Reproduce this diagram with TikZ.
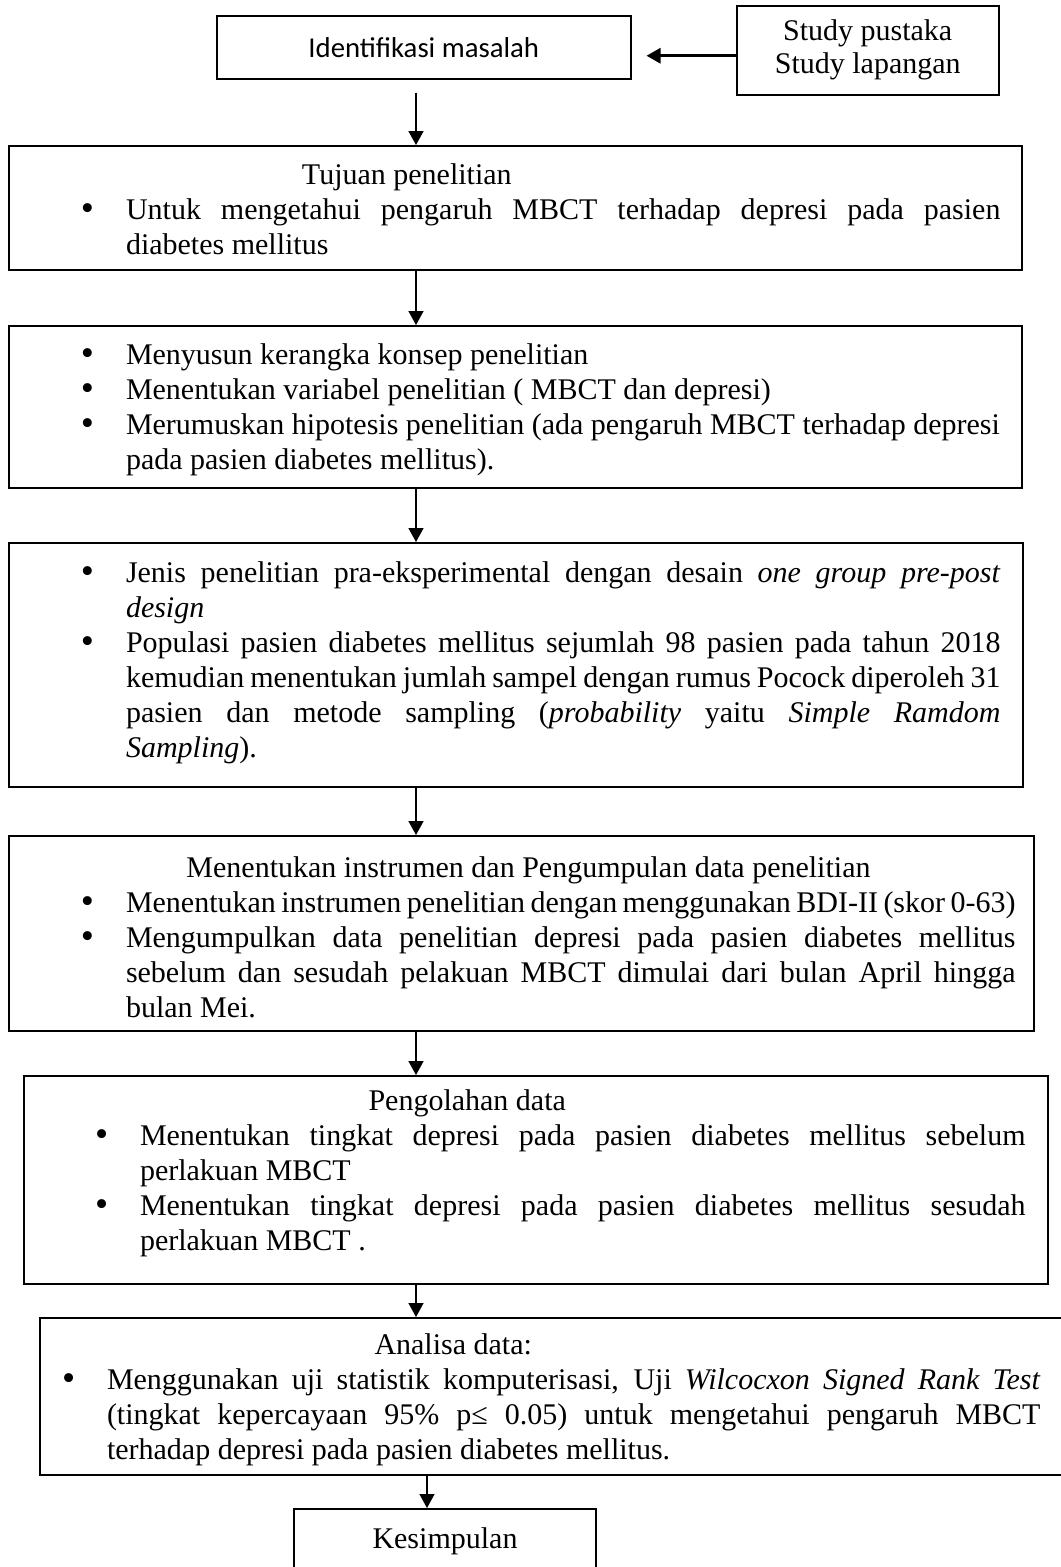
\documentclass[tikz,border=0pt]{standalone}
\usepackage{fontspec}
\setmainfont{Liberation Serif}
\newfontfamily\calibri{Carlito}
\usetikzlibrary{positioning,arrows.meta}

\tolerance=9999
\emergencystretch=3em

% bullet item with hanging indent, and an indented heading line
\newcommand{\titik}{\raisebox{-0.6pt}{\fontsize{15pt}{14pt}\selectfont\textbullet}}
\newcommand{\butir}[1]{\hangindent=18pt\hangafter=1\noindent\makebox[18pt][l]{\titik}#1\par}
\newcommand{\judul}[2]{\noindent\hspace*{#1}#2\par}

\begin{document}
\begin{tikzpicture}[
    kotak/.style={rectangle, draw, line width=0.8pt, anchor=north west, inner sep=0pt},
    isi/.style={anchor=base west, inner sep=0pt, align=justify,
                font=\fontsize{12pt}{14pt}\selectfont},
    panah/.style={-{Triangle[width=6pt,length=5.6pt]}, line width=0.6pt}
]
    \useasboundingbox (0,0) rectangle (424pt,-626.8pt);
    \coordinate (spine) at (166.4pt,0);
    \coordinate (spineb) at (170.8pt,0);

    % Top row
    \node[kotak, line width=0.6pt, minimum width=165.6pt, minimum height=25.2pt,
          font=\calibri\fontsize{11.5pt}{14pt}\selectfont] (identifikasi) at (86.4pt,-6pt) {Identifikasi masalah};
    \node[kotak, line width=0.6pt, minimum width=104.8pt, minimum height=35.6pt, align=center,
          font=\fontsize{12pt}{13.2pt}\selectfont] (studi) at (294.4pt,-2pt) {Study pustaka\\Study lapangan};

    % Tujuan
    \node[kotak, minimum width=405.2pt, minimum height=49.6pt] (tujuan) at (3.2pt,-58pt) {};
    \node[isi, text width=367.8pt] (tujuanIsi) at ([shift={(29pt,-15.6pt)}]tujuan.north west)
        {\judul{88.4pt}{Tujuan penelitian}
         \butir{Untuk mengetahui pengaruh MBCT terhadap depresi pada pasien\linebreak diabetes mellitus}};

    % Kerangka konsep
    \node[kotak, minimum width=405.2pt, minimum height=64.8pt] (kerangka) at (3.2pt,-130pt) {};
    \node[isi, text width=367.8pt] (kerangkaIsi) at ([shift={(29pt,-15.6pt)}]kerangka.north west)
        {\butir{Menyusun kerangka konsep penelitian}
         \butir{Menentukan variabel penelitian ( MBCT dan depresi)}
         \butir{Merumuskan hipotesis penelitian (ada pengaruh MBCT terhadap depresi\newline pada pasien diabetes mellitus).}};

    % Desain penelitian
    \node[kotak, minimum width=405.6pt, minimum height=97.6pt] (desain) at (3.2pt,-216.8pt) {};
    \node[isi, text width=367.8pt] (desainIsi) at ([shift={(29pt,-16pt)}]desain.north west)
        {\butir{Jenis penelitian pra-eksperimental dengan desain \emph{one group pre-post}\linebreak \emph{design}}
         \butir{Populasi pasien diabetes mellitus sejumlah 98 pasien pada tahun 2018\linebreak kemudian menentukan jumlah sampel dengan rumus Pocock diperoleh 31\linebreak pasien dan metode sampling (\emph{probability} yaitu \emph{Simple Ramdom}\linebreak \emph{Sampling}).}};

    % Instrumen
    \node[kotak, minimum width=410pt, minimum height=78pt] (instrumen) at (3.2pt,-334pt) {};
    \node[isi, text width=373.8pt] (instrumenIsi) at ([shift={(29pt,-16.8pt)}]instrumen.north west)
        {\judul{42.2pt}{Menentukan instrumen dan Pengumpulan data penelitian}
         \butir{Menentukan instrumen penelitian dengan menggunakan BDI-II (skor 0-63)}
         \butir{Mengumpulkan data penelitian depresi pada pasien diabetes mellitus\linebreak sebelum dan sesudah pelakuan MBCT dimulai dari bulan April hingga\linebreak bulan Mei.}};

    % Pengolahan data
    \node[kotak, minimum width=409.6pt, minimum height=83.2pt] (olahdata) at (9.2pt,-430pt) {};
    \node[isi, text width=372.2pt] (olahdataIsi) at ([shift={(28.6pt,-14pt)}]olahdata.north west)
        {\judul{109.4pt}{Pengolahan data}
         \butir{Menentukan tingkat depresi pada pasien diabetes mellitus sebelum\linebreak perlakuan MBCT}
         \butir{Menentukan tingkat depresi pada pasien diabetes mellitus sesudah\linebreak perlakuan MBCT .}};

    % Analisa data
    \node[kotak, minimum width=410pt, minimum height=62.8pt] (analisa) at (15.6pt,-526.8pt) {};
    \node[isi, text width=391.4pt] (analisaIsi) at ([shift={(9pt,-14.8pt)}]analisa.north west)
        {\judul{125pt}{Analisa data:}
         \butir{Menggunakan uji statistik komputerisasi, Uji \emph{Wilcocxon Signed Rank Test}\linebreak (tingkat kepercayaan 95\% p≤ 0.05) untuk mengetahui pengaruh MBCT\linebreak terhadap depresi pada pasien diabetes mellitus.}};

    % Kesimpulan
    \node[kotak, minimum width=120.8pt, minimum height=25.6pt,
          font=\fontsize{12pt}{14pt}\selectfont] (simpulan) at (117.2pt,-603.2pt) {Kesimpulan};

    % Arrows
    \draw[panah, line width=1.2pt, shorten >=6pt] ([yshift=-2.2pt]studi.west) -- ([yshift=-2.2pt]studi.west -| identifikasi.east);
    \draw[panah, shorten <=5.2pt] (identifikasi.south -| spine) -- (tujuan.north -| spine);
    \draw[panah] (tujuan.south -| spine) -- (kerangka.north -| spine);
    \draw[panah] (kerangka.south -| spine) -- (desain.north -| spine);
    \draw[panah] (desain.south -| spine) -- (instrumen.north -| spine);
    \draw[panah] (instrumen.south -| spine) -- (olahdata.north -| spine);
    \draw[panah] (olahdata.south -| spine) -- (analisa.north -| spine);
    \draw[panah] (analisa.south -| spineb) -- (simpulan.north -| spineb);
\end{tikzpicture}
\end{document}
